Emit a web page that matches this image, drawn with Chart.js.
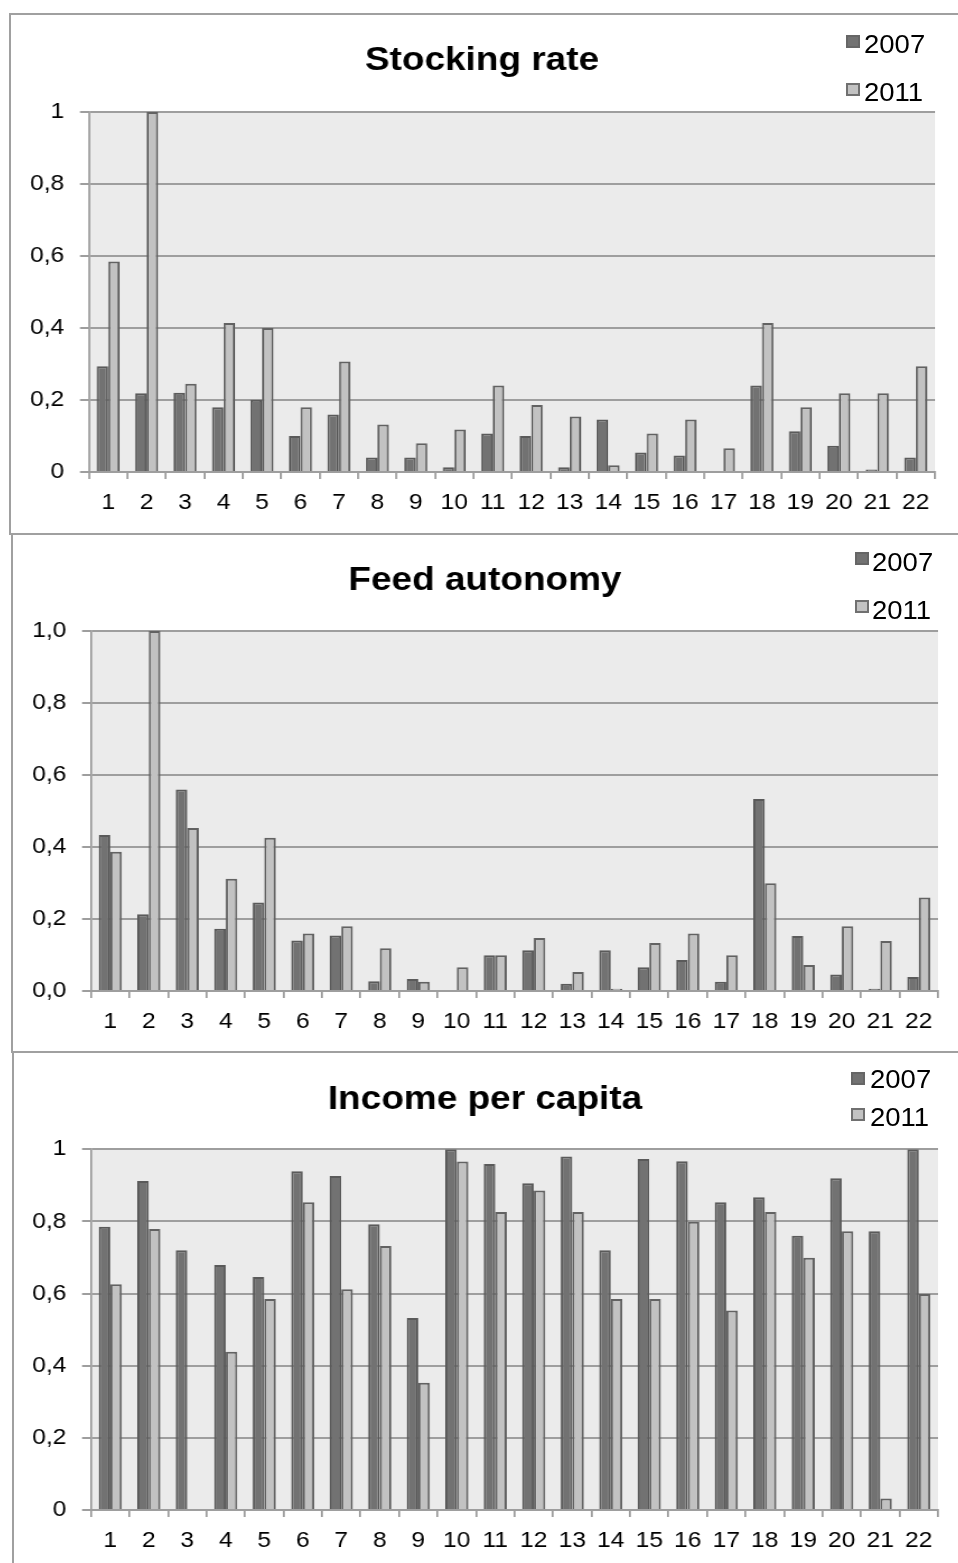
<!DOCTYPE html>
<html>
<head>
<meta charset="utf-8">
<script src="https://cdn.jsdelivr.net/npm/chart.js@4.4.1/dist/chart.umd.min.js"></script>
<style>
    body {
        margin: 0;
        background: #fff;
        width: 958px;
        height: 1563px;
        overflow: hidden;
        position: relative;
        font-family: "Liberation Sans", Arial, sans-serif;
    }
    .box {
        position: absolute;
        border-left: 2px solid #a0a0a0;
        border-top: 2px solid #a0a0a0;
        box-sizing: border-box;
    }
    /* the original picture is a little wider than it is tall, text included */
    canvas {
        position: absolute;
        transform: scaleX(1.12);
        transform-origin: 0 0;
    }
    .sw {
        position: absolute;
        width: 14px;
        height: 13px;
        box-sizing: border-box;
        border: 2px solid #666;
    }
    .lt {
        position: absolute;
        font-size: 25px;
        line-height: 25px;
        color: #000;
        white-space: nowrap;
        transform: scaleX(1.1);
        transform-origin: 0 0;
    }
</style>
</head>
<body>
<div class="box" style="left:9px;top:13px;width:960px;height:522px;"></div>
<div class="box" style="left:11px;top:533px;width:960px;height:520px;"></div>
<div class="box" style="left:12px;top:1051px;width:960px;height:520px;"></div>

<canvas id="chart1" width="846" height="512" style="left:11px;top:15px;"></canvas>
<canvas id="chart2" width="843" height="511" style="left:14px;top:535px;"></canvas>
<canvas id="chart3" width="843" height="508" style="left:14px;top:1053px;"></canvas>

<script>
const categories = ['1', '2', '3', '4', '5', '6', '7', '8', '9', '10', '11',
    '12', '13', '14', '15', '16', '17', '18', '19', '20', '21', '22'];
const seriesLabels = ['2007', '2011'];

const stocking2007 = [0.294, 0.219, 0.22, 0.18, 0.201, 0.10, 0.16, 0.04, 0.04, 0.013, 0.107,
    0.10, 0.013, 0.146, 0.054, 0.046, 0, 0.24, 0.113, 0.073, 0.007, 0.04];
const stocking2011 = [0.585, 1.0, 0.245, 0.414, 0.40, 0.18, 0.307, 0.132, 0.08, 0.118, 0.24,
    0.186, 0.154, 0.019, 0.107, 0.146, 0.066, 0.414, 0.18, 0.219, 0.219, 0.294];

const feed2007 = [0.433, 0.213, 0.56, 0.173, 0.246, 0.14, 0.154, 0.027, 0.033, 0, 0.099,
    0.113, 0.02, 0.113, 0.066, 0.086, 0.026, 0.533, 0.153, 0.046, 0.006, 0.039];
const feed2011 = [0.387, 1.0, 0.453, 0.312, 0.426, 0.16, 0.18, 0.119, 0.026, 0.066, 0.099,
    0.147, 0.053, 0.006, 0.133, 0.16, 0.099, 0.299, 0.072, 0.18, 0.139, 0.26];

const income2007 = [0.785, 0.912, 0.72, 0.679, 0.646, 0.939, 0.926, 0.792, 0.532, 1.0, 0.959,
    0.906, 0.98, 0.72, 0.973, 0.967, 0.853, 0.867, 0.76, 0.92, 0.773, 1.0];
const income2011 = [0.626, 0.779, 0, 0.439, 0.585, 0.853, 0.612, 0.732, 0.353, 0.966, 0.826,
    0.886, 0.826, 0.585, 0.585, 0.799, 0.553, 0.826, 0.699, 0.773, 0.032, 0.599];

const yLabelsPlain = ['0', '0,2', '0,4', '0,6', '0,8', '1'];
const yLabelsDecimal = ['0,0', '0,2', '0,4', '0,6', '0,8', '1,0'];

const titles = ['Stocking rate', 'Feed autonomy', 'Income per capita'];

const GRID = '#9e9e9e';
const FILLS = ['#727272', '#c2c2c2'];
const EDGES = ['#5a5a5a', '#626262'];

Chart.defaults.font.family = '"Liberation Sans", Arial, sans-serif';
Chart.defaults.color = '#000';

const plotBackground = {
    id: 'plotBackground',
    beforeDraw(chart) {
        const a = chart.chartArea;
        const ctx = chart.ctx;
        ctx.save();
        ctx.fillStyle = '#ebebeb';
        ctx.fillRect(a.left, a.top, a.right - a.left, a.bottom - a.top);
        ctx.restore();
    }
};

function makeChart(id, title, values2007, values2011, yLabels, lay) {
    const ctx = document.getElementById(id).getContext('2d');
    return new Chart(ctx, {
        type: 'bar',
        data: {
            labels: categories,
            datasets: [values2007, values2011].map((vals, i) => ({
                label: seriesLabels[i],
                data: vals,
                backgroundColor: FILLS[i],
                borderColor: EDGES[i],
                borderWidth: 2,
                categoryPercentage: 0.6,
                barPercentage: 1.0
            }))
        },
        options: {
            responsive: false,
            animation: false,
            layout: {
                padding: { left: lay.padLeft, right: lay.padRight, top: 0, bottom: lay.padBottom }
            },
            plugins: {
                legend: { display: false },
                tooltip: { enabled: false },
                title: {
                    display: true,
                    text: title,
                    color: '#000',
                    font: { size: 33, weight: 'bold' },
                    padding: { top: lay.titleTop, bottom: lay.titleBottom }
                }
            },
            scales: {
                x: {
                    ticks: {
                        padding: 11,
                        font: { size: 22 },
                        color: '#000',
                        autoSkip: false,
                        maxRotation: 0
                    },
                    grid: {
                        drawOnChartArea: false,
                        color: GRID,
                        lineWidth: 1.8,
                        tickLength: 7
                    },
                    border: { color: GRID, width: 2 },
                    afterFit: function(scale) {
                        scale.height = 50;
                    }
                },
                y: {
                    min: 0,
                    max: 1,
                    ticks: {
                        stepSize: 0.2,
                        padding: 14,
                        font: { size: 22 },
                        color: '#000',
                        callback: function(value, index) {
                            return yLabels[index];
                        }
                    },
                    grid: {
                        color: GRID,
                        lineWidth: 2,
                        tickLength: 8
                    },
                    border: { color: GRID, width: 1.8 },
                    afterFit: function(scale) {
                        scale.width = lay.yWidth;
                    }
                }
            }
        },
        plugins: [plotBackground]
    });
}

function makeLegend(swLeft, textLeft, swTops, textCenters) {
    seriesLabels.forEach((name, i) => {
        const sw = document.createElement('div');
        sw.className = 'sw';
        sw.style.left = swLeft + 'px';
        sw.style.top = swTops[i] + 'px';
        sw.style.background = FILLS[i];
        sw.style.borderColor = i === 0 ? '#666' : '#707070';
        document.body.appendChild(sw);

        const t = document.createElement('div');
        t.className = 'lt';
        t.textContent = name;
        t.style.left = textLeft + 'px';
        t.style.top = (textCenters[i] - 12) + 'px';
        document.body.appendChild(t);
    });
}

makeChart('chart1', titles[0], stocking2007, stocking2011, yLabelsPlain,
    { padLeft: 16, padRight: 21, padBottom: 5, titleTop: 26.2, titleBottom: 31.2, yWidth: 53.6 });
makeChart('chart2', titles[1], feed2007, feed2011, yLabelsDecimal,
    { padLeft: 16, padRight: 18, padBottom: 5, titleTop: 25.7, titleBottom: 30.7, yWidth: 52.75 });
makeChart('chart3', titles[2], income2007, income2011, yLabelsPlain,
    { padLeft: 16, padRight: 18, padBottom: 1, titleTop: 27.2, titleBottom: 29.5, yWidth: 52.75 });

makeLegend(846, 864, [35, 83], [44, 91.5]);
makeLegend(855, 872, [552, 600], [561.5, 610]);
makeLegend(851, 870, [1072, 1108], [1079, 1116.5]);
</script>
</body>
</html>
